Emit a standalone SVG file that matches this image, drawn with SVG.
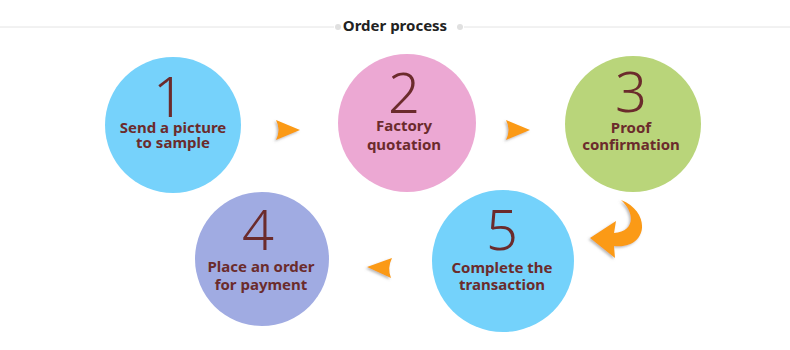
<svg xmlns="http://www.w3.org/2000/svg" width="790" height="350" viewBox="0 0 790 350">
<style>
.num{font-family:"Noto Sans",sans-serif;font-weight:300;font-size:56px;fill:#6b2b2c;text-anchor:middle}
.lbl{font-family:"Noto Sans",sans-serif;font-weight:700;font-size:15px;fill:#6b2b2c;text-anchor:middle}
.title{font-family:"Noto Sans",sans-serif;font-weight:700;font-size:15px;fill:#222;text-anchor:middle}
.arr{fill:#fb9a12;filter:url(#sh)}
</style>
<defs>
<filter id="sh" x="-30%" y="-30%" width="160%" height="160%">
<feDropShadow dx="-1.5" dy="1.5" stdDeviation="1" flood-color="#777" flood-opacity="0.5"/>
</filter>
</defs>
<rect width="790" height="350" fill="#fff"/>
<g id="title">
<line x1="0" y1="27" x2="334" y2="27" stroke="#e4e4e4" stroke-width="1"/>
<line x1="464" y1="27" x2="790" y2="27" stroke="#e4e4e4" stroke-width="1"/>
<circle cx="338" cy="27" r="3" fill="#e0e0e0"/>
<circle cx="460" cy="27" r="3" fill="#e0e0e0"/>
<text class="title" x="395" y="31">Order process</text>
</g>
<g id="node1">
<circle cx="173" cy="125" r="68" fill="#76d2fb"/>
<text class="num" x="169" y="117">1</text>
<text class="lbl" x="173" y="133">Send a picture</text>
<text class="lbl" x="173" y="148">to sample</text>
</g>
<g id="node2">
<circle cx="407" cy="123" r="69" fill="#eca8d3"/>
<text class="num" x="404" y="113">2</text>
<text class="lbl" x="404" y="131">Factory</text>
<text class="lbl" x="404" y="150">quotation</text>
</g>
<g id="node3">
<circle cx="633" cy="124" r="68" fill="#b9d57a"/>
<text class="num" x="631" y="112">3</text>
<text class="lbl" x="631" y="133">Proof</text>
<text class="lbl" x="631" y="150">confirmation</text>
</g>
<g id="node4">
<circle cx="262" cy="259" r="67" fill="#a0abe2"/>
<text class="num" x="258" y="250">4</text>
<text class="lbl" x="261" y="272">Place an order</text>
<text class="lbl" x="261" y="290">for payment</text>
</g>
<g id="node5">
<circle cx="503" cy="261" r="71" fill="#74d2fb"/>
<text class="num" x="502" y="250">5</text>
<text class="lbl" x="502" y="273">Complete the</text>
<text class="lbl" x="502" y="290">transaction</text>
</g>
<g id="connectors">
<path class="arr" d="M276 120 L300 130 L276 140 Q281 130 276 120 Z"/>
<path class="arr" d="M506 120 L530 130 L506 140 Q511 130 506 120 Z"/>
<path class="arr" d="M392 258 L367 267 L391 278 Q387 268 392 258 Z"/>
<path class="arr" d="M621 200 C652 212 648 250 614 246 L615 258 L590 238 L616 221 L614 233 C634 232 636 214 621 200 Z"/>
</g>
</svg>
